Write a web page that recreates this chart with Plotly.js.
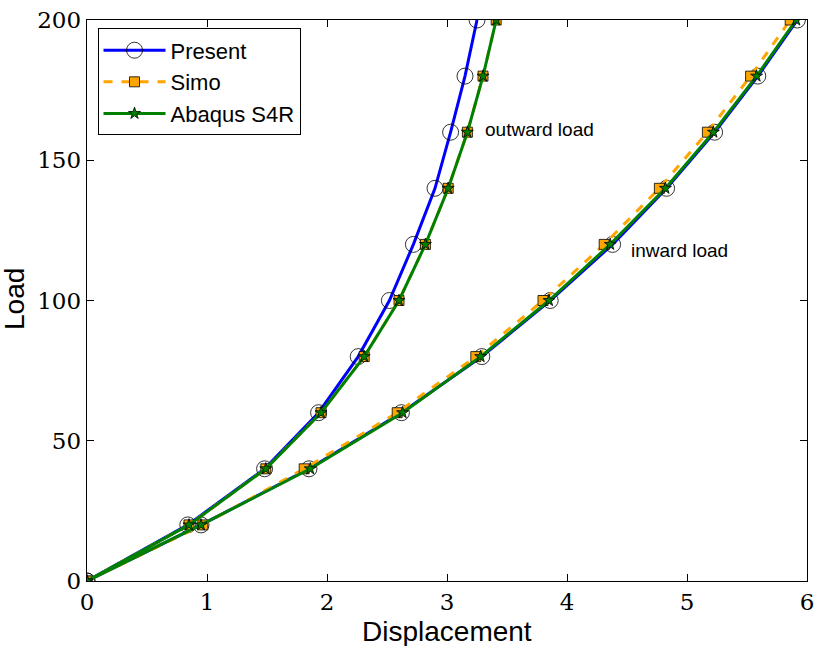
<!DOCTYPE html>
<html>
<head>
<meta charset="utf-8">
<script src="https://cdn.plot.ly/plotly-3.0.1.min.js"></script>
<style>html,body{margin:0;padding:0;background:#fff;}#chart{width:816px;height:646px;}</style>
</head>
<body>
<div id="chart"></div>
<script>
// Load levels (shared by every curve)
const loads = [0, 20, 40, 60, 80, 100, 120, 140, 160, 180, 200];

// Displacements under outward load
const presentOutward = [0, 0.84, 1.48, 1.93, 2.26, 2.52, 2.72, 2.90, 3.03, 3.15, 3.25];
const simoOutward    = [0, 0.85, 1.49, 1.95, 2.31, 2.60, 2.82, 3.01, 3.17, 3.30, 3.41];
const abaqusOutward  = [0, 0.85, 1.49, 1.95, 2.31, 2.60, 2.82, 3.01, 3.17, 3.30, 3.41];

// Displacements under inward load
const presentInward = [0, 0.95, 1.85, 2.62, 3.29, 3.86, 4.38, 4.83, 5.23, 5.59, 5.92];
const simoInward    = [0, 0.965, 1.81, 2.585, 3.24, 3.80, 4.31, 4.77, 5.17, 5.53, 5.86];
const abaqusInward  = [0, 0.95, 1.86, 2.63, 3.28, 3.85, 4.36, 4.82, 5.22, 5.58, 5.91];

const seriesNames = ["Present", "Simo", "Abaqus S4R"];
const xTicks = [0, 1, 2, 3, 4, 5, 6];
const yTicks = [0, 50, 100, 150, 200];
const xTitle = "Displacement";
const yTitle = "Load";
const labels = [
  {text: "outward load", x: 3.30, y: 161},
  {text: "inward load", x: 4.52, y: 118}
];

function joined(a, b) { return a.concat([null], b); }
const yy = joined(loads, loads);

const traces = [
  {
    name: seriesNames[0], x: joined(presentOutward, presentInward), y: yy,
    mode: "lines+markers", type: "scatter", connectgaps: false,
    line: {color: "#0000ff", width: 3},
    marker: {symbol: "circle-open", size: 16, color: "#000000", line: {width: 0.8}}
  },
  {
    name: seriesNames[1], x: joined(simoOutward, simoInward), y: yy,
    mode: "lines+markers", type: "scatter", connectgaps: false,
    line: {color: "#ffa500", width: 3, dash: "dash"},
    marker: {symbol: "square", size: 10, color: "#ffa500", line: {color: "#000000", width: 0.8}}
  },
  {
    name: seriesNames[2], x: joined(abaqusOutward, abaqusInward), y: yy,
    mode: "lines+markers", type: "scatter", connectgaps: false,
    line: {color: "#008000", width: 3},
    marker: {symbol: "star", size: 9, color: "#008000", line: {color: "#000000", width: 0.8}}
  }
];

const serifFamily = "DejaVu Serif";
const sansFamily = "Liberation Sans";
const tickFont = {family: serifFamily, size: 23, color: "#000"};
const annotations = labels.map(l => ({
  text: l.text, x: l.x, y: l.y, xref: "x", yref: "y",
  xanchor: "left", yanchor: "middle", showarrow: false,
  font: {family: sansFamily, size: 19, color: "#000"}
}));
annotations.push({
  text: xTitle, xref: "paper", yref: "paper", x: 0.5, y: -0.09,
  xanchor: "center", yanchor: "middle", showarrow: false,
  font: {family: sansFamily, size: 28, color: "#000"}
});
annotations.push({
  text: yTitle, xref: "paper", yref: "paper", x: -0.1, y: 0.5027,
  xanchor: "center", yanchor: "middle", showarrow: false, textangle: -90,
  font: {family: sansFamily, size: 28, color: "#000"}
});

const layout = {
  width: 816, height: 646,
  margin: {l: 86.5, r: 9, t: 20, b: 65},
  paper_bgcolor: "#fff", plot_bgcolor: "#fff",
  showlegend: true,
  legend: {
    x: 0.0146, y: 0.985, xanchor: "left", yanchor: "top",
    bgcolor: "#fff", bordercolor: "#000", borderwidth: 1,
    font: {family: sansFamily, size: 22, color: "#000"},
    itemwidth: 62, tracegroupgap: 4
  },
  xaxis: {
    range: [0, 6], tickvals: xTicks, ticktext: xTicks.map(String),
    ticks: "inside", ticklen: 7, tickcolor: "#000", tickwidth: 1,
    showline: true, linecolor: "#000", linewidth: 1.3, mirror: "allticks",
    showgrid: false, zeroline: false, tickfont: tickFont
  },
  yaxis: {
    range: [0, 200], tickvals: yTicks, ticktext: yTicks.map(String),
    ticks: "inside", ticklen: 7, tickcolor: "#000", tickwidth: 1,
    showline: true, linecolor: "#000", linewidth: 1.3, mirror: "allticks",
    showgrid: false, zeroline: false, tickfont: tickFont
  },
  annotations: annotations
};

Plotly.newPlot("chart", traces, layout, {displayModeBar: false, staticPlot: true});
</script>
</body>
</html>
